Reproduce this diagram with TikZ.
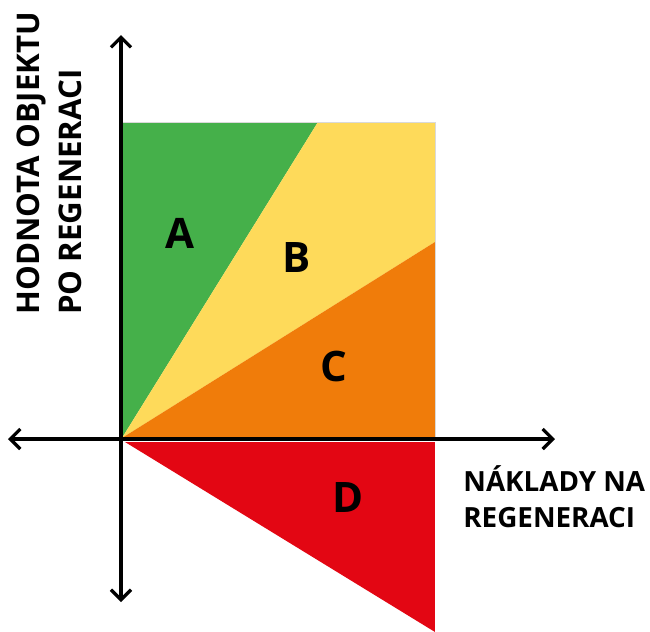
\documentclass[tikz,border=0pt]{standalone}
\usepackage{fontspec}
\setmainfont{Open Sans}
\usetikzlibrary{arrows.meta}
\definecolor{zoneA}{RGB}{69,176,74}
\definecolor{zoneB}{RGB}{254,218,90}
\definecolor{zoneC}{RGB}{240,124,10}
\definecolor{zoneD}{RGB}{227,6,19}

\begin{document}
\begin{tikzpicture}[x=0.5pt,y=-0.5pt, every node/.style={inner sep=0pt},
    axis/.style={line width=1.6pt,{Straight Barb[length=5pt,width=10pt]}-{Straight Barb[length=5pt,width=10pt]}},
    zone/.style={font=\fontsize{21}{24}\selectfont\bfseries},
    axlabel/.style={align=left}]
    \useasboundingbox (0,0) rectangle (650,632);
    % corners of the chart
    \coordinate (o) at (122,438);
    \coordinate (tl) at (122,122);
    \coordinate (tm) at (318,122);
    \coordinate (tr) at (435,122);
    \coordinate (rm) at (435,242);
    \coordinate (br) at (435,438);
    \fill[zoneA] (o) -- (tl) -- (tm) -- cycle;
    \fill[zoneB] (o) -- (tm) -- (tr) -- (rm) -- cycle;
    \fill[zoneC] (o) -- (rm) -- (br) -- cycle;
    \fill[zoneD] (125,442) -- (435,442) -- (435,632) -- cycle;
    \draw[gray!30,line width=0.3pt] (tl) -- (tr) -- (br);
    % axes
    \coordinate (xl) at (8,439);
    \coordinate (xr) at (555,439);
    \coordinate (yb) at (121,602);
    \coordinate (yt) at (121,35);
    \draw[axis] (xl) -- (xr);
    \draw[axis] (yb) -- (yt);
    \node[zone] (a) at (180,233) {A};
    \node[zone] (b) at (297,258) {B};
    \node[zone] (c) at (334,366) {C};
    \node[zone] (d) at (348,498) {D};
    \node[axlabel,font=\fontsize{13.9}{18}\selectfont\bfseries,anchor=north west] (xlab) at (463,465) {NÁKLADY NA\\REGENERACI};
    \node[axlabel,font=\fontsize{15.6}{21}\selectfont\bfseries,rotate=90,anchor=north west] (ylab) at (16,315) {HODNOTA OBJEKTU\\PO REGENERACI};
\end{tikzpicture}
\end{document}
